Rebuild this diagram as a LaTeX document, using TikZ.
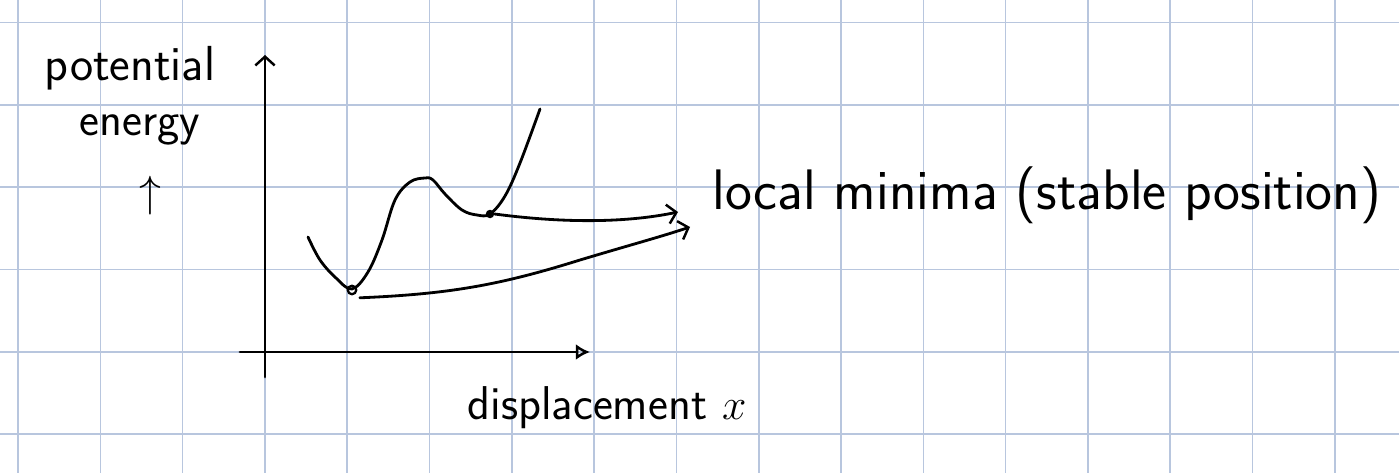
\documentclass[tikz,border=0pt]{standalone}
\usetikzlibrary{arrows.meta}
\definecolor{gridblue}{RGB}{184,198,222}

\begin{document}
\begin{tikzpicture}[x=0.02cm, y=-0.02cm,
        ink/.style={line width=1.6pt, line cap=round, line join=round},
        hand/.style={font=\sffamily\fontsize{27}{30}\selectfont, inner sep=0pt},
        tip/.style={-{Straight Barb[length=5pt,width=11pt,line width=1.4pt]}}]
    \useasboundingbox (0,0) rectangle (1399,473);
    \fill[white] (0,0) rectangle (1399,473);
    % squared paper
    \foreach \i in {0,...,16}
        \draw[gridblue, line width=0.9pt] ({18+82.3*\i},0) -- ({18+82.3*\i},473);
    \foreach \j in {0,...,5}
        \draw[gridblue, line width=0.9pt] (0,{22.6+82.3*\j}) -- (1399,{22.6+82.3*\j});

    % axes
    \coordinate (ybot) at (265,377);
    \coordinate (ytop) at (265,55);
    \coordinate (xleft) at (240,352);
    \coordinate (xright) at (590,352);
    \draw[ink, tip] (ybot) -- (ytop);
    \draw[ink, -{Latex[open,length=8pt,width=9pt,line width=1.4pt]}] (xleft) -- (xright);

    % labels
    \node[hand, font=\sffamily\fontsize{28}{30}\selectfont] (pot) at (130,68) {potential};
    \node[hand, font=\sffamily\fontsize{27}{30}\selectfont] (ene) at (140,130) {energy};
    \node[inner sep=0pt, font=\fontsize{36}{38}\selectfont] (up) at (150,196) {$\uparrow$};
    \node[hand] (disp) at (607,408) {displacement $x$};
    \node[hand, font=\sffamily\fontsize{32.5}{36}\selectfont] (lm) at (1047,195) {local minima (stable position)};

    % the two minima
    \node[draw, circle, line width=1.3pt, inner sep=0pt, minimum size=0.17cm] (m1) at (352,290) {};
    \node[fill, circle, inner sep=0pt, minimum size=0.17cm] (m2) at (490,214) {};

    % potential curve
    \draw[ink] plot[smooth, tension=0.6] coordinates {(308,237) (320,260) (336,278) (352,289)
        (368,272) (382,240) (395,200) (410,182) (425,178) (433,180) (445,194) (462,210)
        (477,215) (490,214) (505,196) (520,163) (540,109)};

    % arrows to the label
    \coordinate (a1) at (678,212);
    \coordinate (a2) at (690,227);
    \draw[ink, tip] (m2.east) .. controls (570,224) and (630,222) .. (a1);
    \draw[ink, tip] (m1.south east) ++(4,4) .. controls (450,294) and (500,285) .. (580,260)
        .. controls (630,245) and (660,237) .. (a2);
\end{tikzpicture}
\end{document}
